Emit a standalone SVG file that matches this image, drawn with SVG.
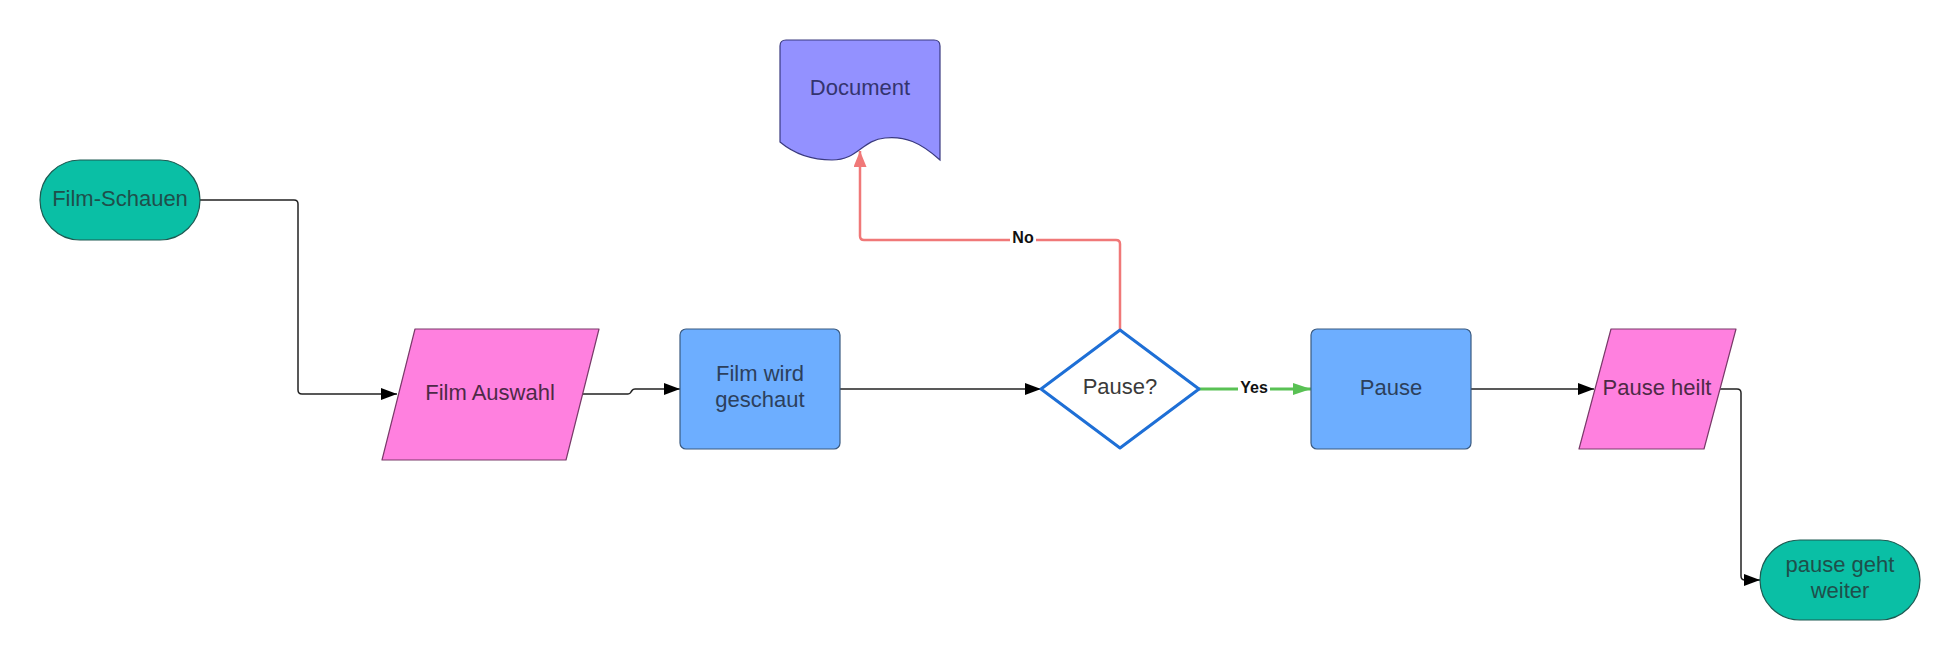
<svg xmlns="http://www.w3.org/2000/svg" width="1960" height="660" viewBox="0 0 1960 660">
  <style>
    .t { font-family: "Liberation Sans", Arial, sans-serif; font-size: 22px; text-anchor: middle; }
    .lbl { font-family: "Liberation Sans", Arial, sans-serif; font-size: 16px; font-weight: bold; text-anchor: middle; fill: #111; }
    .term { fill: #0ABFA5; stroke: #1d5a52; stroke-width: 1.2; }
    .io { fill: #FF80DF; stroke: #7a3a6a; stroke-width: 1.2; stroke-linejoin: round; }
    .proc { fill: #6DAEFF; stroke: #3a5a80; stroke-width: 1.2; }
    .doc { fill: #9391FF; stroke: #3a3a80; stroke-width: 1.2; }
    .dec { fill: #FFFFFF; stroke: #1E6FD6; stroke-width: 3; stroke-linejoin: round; }
    .c { fill: none; stroke: #222; stroke-width: 1.5; }
  </style>
  <defs>
    <marker id="ah" markerUnits="userSpaceOnUse" markerWidth="16" markerHeight="12" refX="16" refY="6" orient="auto">
      <path d="M0,0 L16,6 L0,12 Z" fill="#000"/>
    </marker>
    <marker id="ahg" markerUnits="userSpaceOnUse" markerWidth="18" markerHeight="12" refX="18" refY="6" orient="auto">
      <path d="M0,0 L18,6 L0,12 Z" fill="#59C154"/>
    </marker>
    <marker id="ahr" markerUnits="userSpaceOnUse" markerWidth="16" markerHeight="13" refX="16" refY="6.5" orient="auto">
      <path d="M0,0 L16,6.5 L0,13 Z" fill="#F07878"/>
    </marker>
  </defs>
  <rect width="1960" height="660" fill="#FFFFFF"/>

  <g id="connectors">
    <path class="c" d="M200,200 H294 Q298,200 298,204 V390 Q298,394 302,394 H397" marker-end="url(#ah)"/>
    <path class="c" d="M582,394 H628 Q630,394 631,392 L632,390.5 Q633,389 635,389 H680" marker-end="url(#ah)"/>
    <path class="c" d="M840,389 H1041" marker-end="url(#ah)"/>
    <path d="M1120,330 V244 Q1120,240 1116,240 H864 Q860,240 860,236 V151" fill="none" stroke="#F07878" stroke-width="2.5" marker-end="url(#ahr)"/>
    <path d="M1199,389 H1311" fill="none" stroke="#59C154" stroke-width="3" marker-end="url(#ahg)"/>
    <path class="c" d="M1471,389 H1594" marker-end="url(#ah)"/>
    <path class="c" d="M1720,389 H1737 Q1741,389 1741,393 V576 Q1741,580 1745,580 H1760" marker-end="url(#ah)"/>
    <rect x="1010" y="227" width="26" height="18" fill="#FFFFFF"/>
    <text class="lbl" x="1023" y="243">No</text>
    <rect x="1238" y="378" width="32" height="18" fill="#FFFFFF"/>
    <text class="lbl" x="1254" y="393">Yes</text>
  </g>

  <g id="film-schauen">
    <rect class="term" x="40" y="160" width="160" height="80" rx="40" ry="40"/>
    <text class="t" x="120" y="206" fill="#1f4f4b">Film-Schauen</text>
  </g>

  <g id="film-auswahl">
    <polygon class="io" points="415,329 599,329 566,460 382,460"/>
    <text class="t" x="490" y="400" fill="#4d2a46">Film Auswahl</text>
  </g>

  <g id="film-wird-geschaut">
    <rect class="proc" x="680" y="329" width="160" height="120" rx="6" ry="6"/>
    <text class="t" x="760" y="381" fill="#2c405c">Film wird</text>
    <text class="t" x="760" y="407" fill="#2c405c">geschaut</text>
  </g>

  <g id="document">
    <path class="doc" d="M780,46 Q780,40 786,40 L934,40 Q940,40 940,46 L940,160 C920,142 905,136 885,138 C862,140 858,160 832,160 C810,160 792,152 780,142 Z"/>
    <text class="t" x="860" y="95" fill="#34346e">Document</text>
  </g>

  <g id="pause-decision">
    <path class="dec" d="M1120,330 L1199,389 L1120,448 L1041,389 Z"/>
    <text class="t" x="1120" y="394" fill="#3a3a3a">Pause?</text>
  </g>

  <g id="pause">
    <rect class="proc" x="1311" y="329" width="160" height="120" rx="6" ry="6"/>
    <text class="t" x="1391" y="395" fill="#2c405c">Pause</text>
  </g>

  <g id="pause-heilt">
    <polygon class="io" points="1611,329 1736,329 1704,449 1579,449"/>
    <text class="t" x="1657" y="395" fill="#4d2a46">Pause heilt</text>
  </g>

  <g id="pause-geht-weiter">
    <rect class="term" x="1760" y="540" width="160" height="80" rx="40" ry="40"/>
    <text class="t" x="1840" y="572" fill="#1f4f4b">pause geht</text>
    <text class="t" x="1840" y="598" fill="#1f4f4b">weiter</text>
  </g>
</svg>
